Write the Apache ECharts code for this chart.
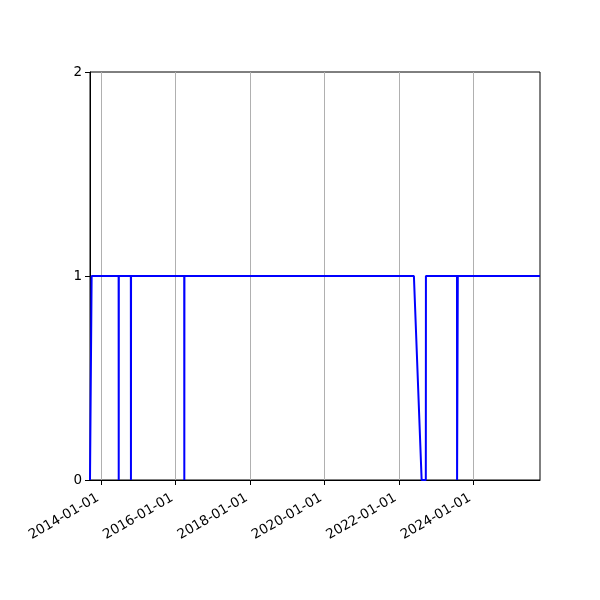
<!DOCTYPE html>
<html>
<head>
<meta charset="utf-8">
<script src="https://cdn.jsdelivr.net/npm/echarts@6/dist/echarts.min.js"></script>
<style>
  html, body { margin: 0; padding: 0; background: #fff; }
  #chart { width: 600px; height: 600px; }
</style>
</head>
<body>
<div id="chart"></div>
<script>
// change points of the series (flat in between)
const dates = [
    '2013-09-12', '2013-09-28',
    '2014-06-20', '2014-06-21', '2014-06-22',
    '2014-10-18', '2014-10-19', '2014-10-20',
    '2016-03-25', '2016-03-26', '2016-03-27',
    '2022-05-28', '2022-08-12', '2022-09-22', '2022-09-23',
    '2023-07-25', '2023-07-26', '2023-08-01', '2023-08-02',
    '2025-10-17'
];
const values = [
    0, 1,
    1, 0, 1,
    1, 0, 1,
    1, 0, 1,
    1, 0, 0, 1,
    1, 0, 0, 1,
    1
];
const tickDates = ['2014-01-01', '2016-01-01', '2018-01-01', '2020-01-01', '2022-01-01', '2024-01-01'];
const yTicks = [0, 1, 2];

if (typeof echarts !== 'undefined') {
    const chart = echarts.init(document.getElementById('chart'));
    const tickValues = tickDates.map(d => echarts.time.parse(d).getTime());
    const font = 'DejaVu Sans';

    const option = {
        animation: false,
        grid: {
            left: 90, right: 60, top: 72, bottom: 120,
            show: true, borderColor: '#000', borderWidth: 1
        },
        xAxis: {
            type: 'time',
            min: dates[0],
            max: dates[dates.length - 1],
            axisLine: { lineStyle: { color: '#000', width: 1 } },
            axisTick: { show: true, length: 5, lineStyle: { color: '#000' }, customValues: tickValues },
            axisLabel: {
                customValues: tickValues,
                rotate: 30,
                margin: 15,
                padding: [0, 4, 0, 0],
                color: '#000',
                fontFamily: font,
                fontSize: 13.5,
                formatter: '{yyyy}-{MM}-{dd}'
            },
            splitLine: { show: true, lineStyle: { color: '#b0b0b0', width: 1 } }
        },
        yAxis: {
            type: 'value',
            min: 0,
            max: 2,
            interval: 1,
            axisLine: { show: true, lineStyle: { color: '#000', width: 1 } },
            axisTick: { show: true, length: 5, lineStyle: { color: '#000' } },
            axisLabel: {
                color: '#000', fontFamily: font, fontSize: 13.5, margin: 8,
                formatter: v => yTicks.includes(v) ? String(v) : ''
            },
            splitLine: { show: false }
        },
        series: [
            {
                type: 'line',
                data: dates.map((d, i) => [d, values[i]]),
                showSymbol: false,
                lineStyle: { color: '#0000ff', width: 2 },
                itemStyle: { color: '#0000ff' }
            }
        ]
    };
    chart.setOption(option);
} else {
    console.error('ECharts library not loaded.');
}
</script>
</body>
</html>
